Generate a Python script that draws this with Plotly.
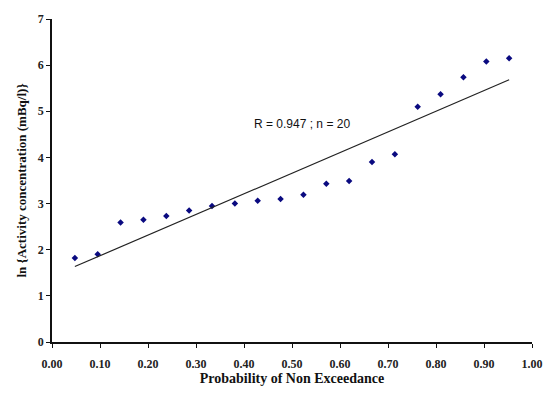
import numpy as np
import plotly.graph_objects as go

n = 20
rank = list(range(1, n + 1))
prob = [r / (n + 1) for r in rank]
ln_conc = [1.82, 1.90, 2.59, 2.65, 2.73, 2.85, 2.95, 3.00, 3.06, 3.10,
           3.19, 3.43, 3.49, 3.90, 4.07, 5.10, 5.37, 5.74, 6.08, 6.15]
x_ticks = [0.0, 0.1, 0.2, 0.3, 0.4, 0.5, 0.6, 0.7, 0.8, 0.9, 1.0]
y_ticks = [0, 1, 2, 3, 4, 5, 6, 7]
annotation_text = "R = 0.947 ; n = 20"

slope, intercept = np.polyfit(prob, ln_conc, 1)
fit_x = [prob[0], prob[-1]]
fit_y = [slope * v + intercept for v in fit_x]

fig = go.Figure()
fig.add_trace(go.Scatter(x=prob, y=ln_conc, mode="markers",
                         marker=dict(symbol="diamond", size=5, color="#0a0a80"),
                         showlegend=False))
fig.add_trace(go.Scatter(x=fit_x, y=fit_y, mode="lines",
                         line=dict(color="#222222", width=1.2),
                         showlegend=False))

fig.add_annotation(x=0.52, y=4.72, text=annotation_text, showarrow=False,
                   font=dict(family="Liberation Sans", size=12, color="#111"))

serif = "Liberation Serif"
fig.update_layout(
    width=555, height=408,
    margin=dict(l=52, r=18, t=15, b=66),
    paper_bgcolor="white", plot_bgcolor="white",
    xaxis=dict(range=[0, 1], tickvals=x_ticks,
               ticktext=[f"{v:.2f}" for v in x_ticks],
               showgrid=False, zeroline=False, showline=True,
               linecolor="#111", linewidth=1.5, ticks="outside",
               ticklen=4, tickcolor="#111", ticklabelstandoff=6,
               tickfont=dict(family=serif, size=12, color="#222", weight="bold"),
               title=dict(text="<b>Probability of Non Exceedance</b>",
                          font=dict(family=serif, size=14, color="#111"),
                          standoff=3)),
    yaxis=dict(range=[0, 7], tickvals=y_ticks,
               showgrid=False, zeroline=False, showline=True,
               linecolor="#111", linewidth=1.5, ticks="outside",
               ticklen=4, tickcolor="#111",
               tickfont=dict(family=serif, size=12, color="#222", weight="bold"),
               title=dict(text="<b>ln {Activity concentration (mBq/l)}</b>",
                          font=dict(family=serif, size=13, color="#111"),
                          standoff=8)),
)

fig.write_html("out.html")
